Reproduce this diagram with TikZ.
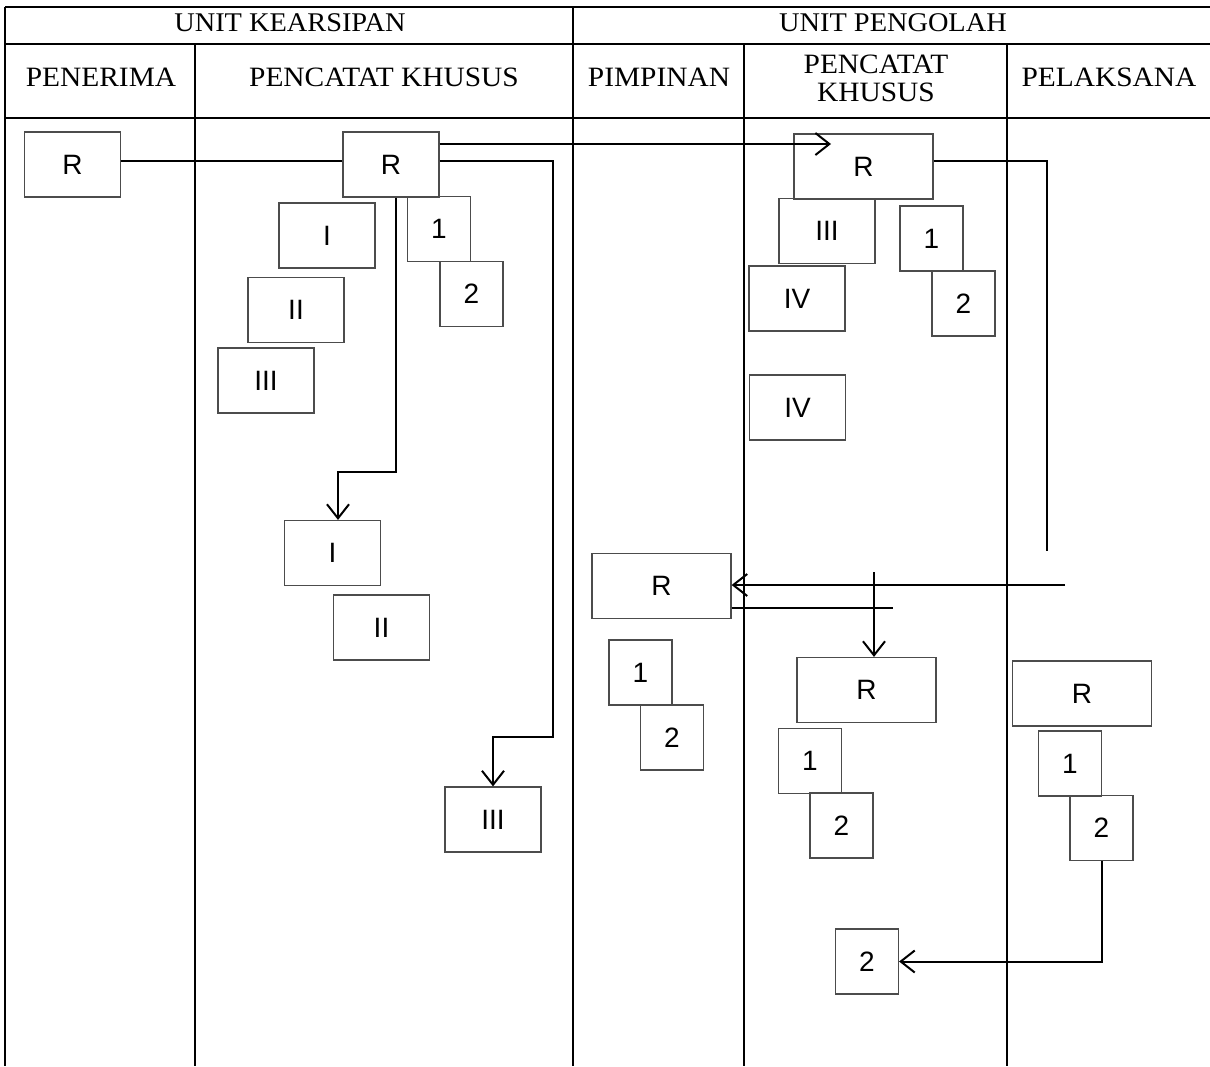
\documentclass[tikz,border=0pt]{standalone}
\usepackage{fontspec}
\setmainfont{Liberation Serif}
\newfontfamily\headfont[FakeStretch=1.05]{Liberation Serif}
\newfontfamily\boxfont{Liberation Sans}
\usetikzlibrary{arrows.meta}

\begin{document}
\begin{tikzpicture}[x=1pt,y=-1pt,
		grid/.style={line width=2.2pt},
		box/.style={draw=black!70, line width=1.2pt, minimum width=96pt, minimum height=65pt, inner sep=0pt, font=\boxfont\fontsize{28}{32}\selectfont},
		wbox/.style={box, minimum width=139pt},
		sq/.style={box, minimum width=63pt},
		conn/.style={line width=2pt},
		arr/.style={conn, -{Straight Barb[length=14pt,width=22pt]}},
		head/.style={font=\headfont\fontsize{28}{28}\selectfont, align=center},
		unit/.style={font=\headfont\fontsize{27}{30}\selectfont}]
		\useasboundingbox (0,0) rectangle (1210,1066);
		
		% table
		\draw[grid] (5,7) -- (1210,7);
		\draw[grid] (5,44) -- (1210,44);
		\draw[grid] (5,118) -- (1210,118);
		\draw[grid] (5,7) -- (5,1066);
		\draw[grid] (573,7) -- (573,1066);
		\foreach \x in {195,744,1007}
			\draw[grid] (\x,44) -- (\x,1066);
		\node[unit] (hKearsipan) at (290,23) {UNIT KEARSIPAN};
		\node[unit] (hPengolah) at (893,23) {UNIT PENGOLAH};
		\node[head] (hPenerima) at (101,77) {PENERIMA};
		\node[head] (hPencatatA) at (384,77) {PENCATAT KHUSUS};
		\node[head] (hPimpinan) at (659,77) {PIMPINAN};
		\node[head] (hPencatatB) at (876,78) {PENCATAT\\KHUSUS};
		\node[head] (hPelaksana) at (1109,77) {PELAKSANA};
		
		% unit kearsipan
		\node[box] (rA) at (72.5,164.5) {R};
		\node[box] (rB) at (391,164.5) {R};
		\node[box] (kI) at (327,235.5) {I};
		\node[box] (kII) at (296,310) {II};
		\node[box] (kIII) at (266,380.5) {III};
		\node[sq] (k1) at (439,229) {1};
		\node[sq] (k2) at (471.5,294) {2};
		\node[box] (kIb) at (332.5,553) {I};
		\node[box] (kIIb) at (381.5,627.5) {II};
		\node[box] (kIIIb) at (493,819.5) {III};
		
		% unit pengolah
		\node[wbox] (rC) at (863.5,166.5) {R};
		\node[box] (pIII) at (827,231) {III};
		\node[box] (pIV) at (797,298.5) {IV};
		\node[sq] (p1) at (931.5,238.5) {1};
		\node[sq] (p2) at (963.5,303.5) {2};
		\node[box] (pIVb) at (797.5,407.5) {IV};
		\node[wbox] (rD) at (661.5,586) {R};
		\node[sq] (m1) at (640.5,672.5) {1};
		\node[sq] (m2) at (672,737.5) {2};
		\node[wbox] (rE) at (866.5,690) {R};
		\node[sq] (q1) at (810,761) {1};
		\node[sq] (q2) at (841.5,825.5) {2};
		\node[wbox] (rF) at (1082,693.5) {R};
		\node[sq] (s1) at (1070,763.5) {1};
		\node[sq] (s2) at (1101.5,828) {2};
		\node[sq] (t2) at (867,961.5) {2};
		
		\coordinate (tipC) at (831,144);
		\coordinate (cornerA) at (338,472);
		\coordinate (cornerB) at (553,737);
		\coordinate (endC) at (1047,551);
		\coordinate (startD) at (1065,585);
		\coordinate (endD) at (893,608);
		\coordinate (startE) at (874,572);
		
		% connectors
		\draw[conn] ([yshift=3.5pt]rA.east) -- ([yshift=3.5pt]rB.west);
		\draw[arr] (rB.east |- tipC) -- (tipC);
		\draw[arr] ([yshift=3.5pt]rB.east) -| (cornerB) -| (kIIIb.north);
		\draw[arr] ([xshift=5pt]rB.south) |- (cornerA) -| ([xshift=5.5pt]kIb.north);
		\draw[conn] ([yshift=5.5pt]rC.east) -| (endC);
		\draw[arr] (startD) -- (rD.east |- startD);
		\draw[conn] ([yshift=-22pt]rD.east) -- (endD);
		\draw[arr] (startE) -- (startE |- rE.north);
		\draw[arr] (s2.south) |- (t2.east);
	\end{tikzpicture}
\end{document}
